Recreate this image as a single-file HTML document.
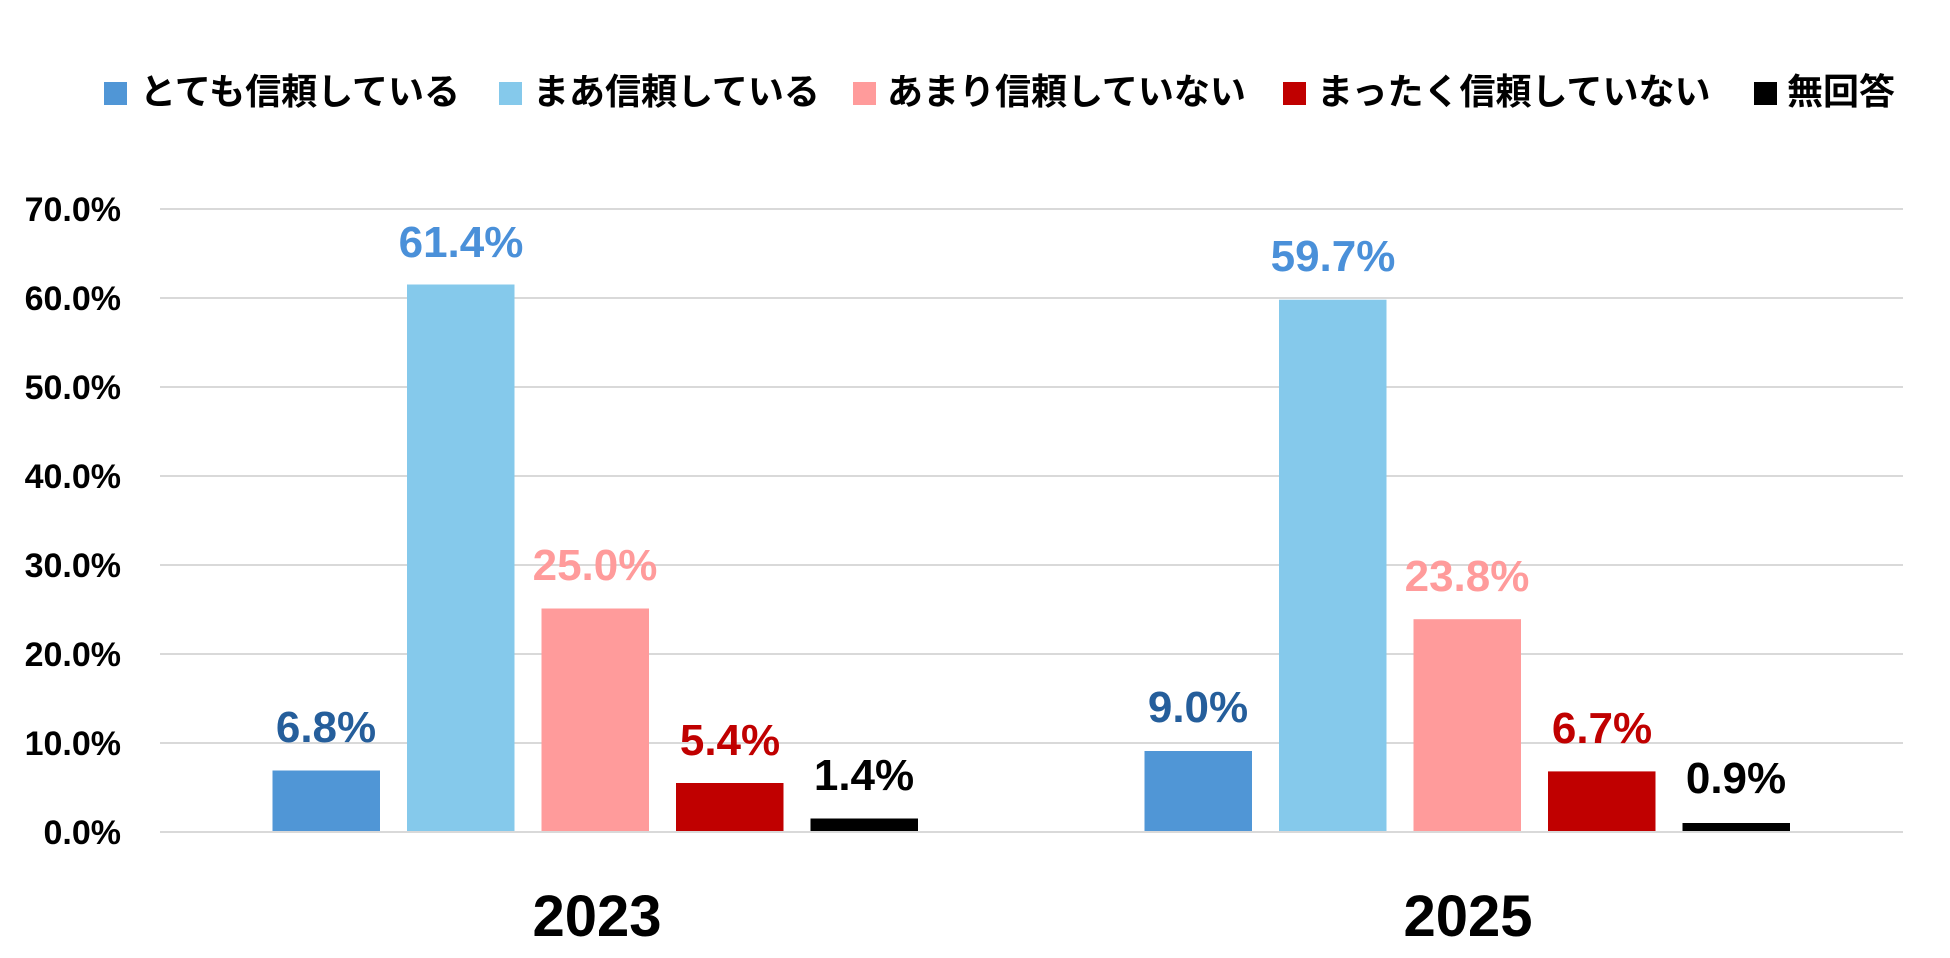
<!DOCTYPE html>
<html><head><meta charset="utf-8"><style>
html,body{margin:0;padding:0;background:#fff;}
svg{display:block;}
</style></head><body>
<svg width="1950" height="958" viewBox="0 0 1950 958" xmlns="http://www.w3.org/2000/svg">
<rect width="1950" height="958" fill="#fff"/>
<g font-family="'Liberation Sans','Noto Sans CJK JP',sans-serif" font-weight="bold">
<!-- legend -->
<rect x="104" y="82" width="23" height="23" fill="#5096D6"/>
<text x="140" y="104" font-size="36" fill="#000" font-family="'Noto Sans CJK JP',sans-serif" font-weight="bold">とても信頼している</text>
<rect x="499" y="82" width="23" height="23" fill="#85C9EB"/>
<text x="533" y="104" font-size="36" fill="#000" font-family="'Noto Sans CJK JP',sans-serif" font-weight="bold">まあ信頼している</text>
<rect x="853" y="82" width="23" height="23" fill="#FF9B9B"/>
<text x="887" y="104" font-size="36" fill="#000" font-family="'Noto Sans CJK JP',sans-serif" font-weight="bold">あまり信頼していない</text>
<rect x="1283" y="82" width="23" height="23" fill="#C00000"/>
<text x="1317" y="104" font-size="36" fill="#000" font-family="'Noto Sans CJK JP',sans-serif" font-weight="bold">まったく信頼していない</text>
<rect x="1754" y="82" width="23" height="23" fill="#000"/>
<text x="1787" y="104" font-size="36" fill="#000" font-family="'Noto Sans CJK JP',sans-serif" font-weight="bold">無回答</text>
<!-- grid -->
<g stroke="#D9D9D9" stroke-width="2">
<line x1="160" y1="209" x2="1903" y2="209"/>
<line x1="160" y1="298" x2="1903" y2="298"/>
<line x1="160" y1="387" x2="1903" y2="387"/>
<line x1="160" y1="476" x2="1903" y2="476"/>
<line x1="160" y1="565" x2="1903" y2="565"/>
<line x1="160" y1="654" x2="1903" y2="654"/>
<line x1="160" y1="743" x2="1903" y2="743"/>
<line x1="160" y1="832" x2="1903" y2="832"/>
</g>
<g font-size="34" fill="#000" text-anchor="end">
<text x="121" y="221">70.0%</text>
<text x="121" y="310">60.0%</text>
<text x="121" y="399">50.0%</text>
<text x="121" y="488">40.0%</text>
<text x="121" y="577">30.0%</text>
<text x="121" y="666">20.0%</text>
<text x="121" y="755">10.0%</text>
<text x="121" y="844">0.0%</text>
</g>
<!-- bars 2023 -->
<rect x="272.5" y="770.5" width="107.5" height="60.5" fill="#5096D6"/>
<rect x="407" y="284.5" width="107.5" height="546.5" fill="#85C9EB"/>
<rect x="541.5" y="608.5" width="107.5" height="222.5" fill="#FF9B9B"/>
<rect x="676" y="783" width="107.5" height="48" fill="#C00000"/>
<rect x="810.5" y="818.5" width="107.5" height="12.5" fill="#000"/>
<!-- bars 2025 -->
<rect x="1144.5" y="751" width="107.5" height="80" fill="#5096D6"/>
<rect x="1279" y="299.7" width="107.5" height="531.3" fill="#85C9EB"/>
<rect x="1413.5" y="619.2" width="107.5" height="211.8" fill="#FF9B9B"/>
<rect x="1548" y="771.4" width="107.5" height="59.6" fill="#C00000"/>
<rect x="1682.5" y="823" width="107.5" height="8" fill="#000"/>
<!-- labels -->
<g font-size="44" text-anchor="middle">
<text x="326" y="742" fill="#255E9B">6.8%</text>
<text x="461" y="257" fill="#4A90D9">61.4%</text>
<text x="595" y="580" fill="#FF9B9B">25.0%</text>
<text x="730" y="755" fill="#C00000">5.4%</text>
<text x="864" y="790" fill="#000">1.4%</text>
<text x="1198" y="722" fill="#255E9B">9.0%</text>
<text x="1333" y="271" fill="#4A90D9">59.7%</text>
<text x="1467" y="591" fill="#FF9B9B">23.8%</text>
<text x="1602" y="743" fill="#C00000">6.7%</text>
<text x="1736" y="793" fill="#000">0.9%</text>
</g>
<g font-size="58" text-anchor="middle" fill="#000">
<text x="597" y="936">2023</text>
<text x="1468" y="936">2025</text>
</g>
</g>
</svg>
</body></html>
